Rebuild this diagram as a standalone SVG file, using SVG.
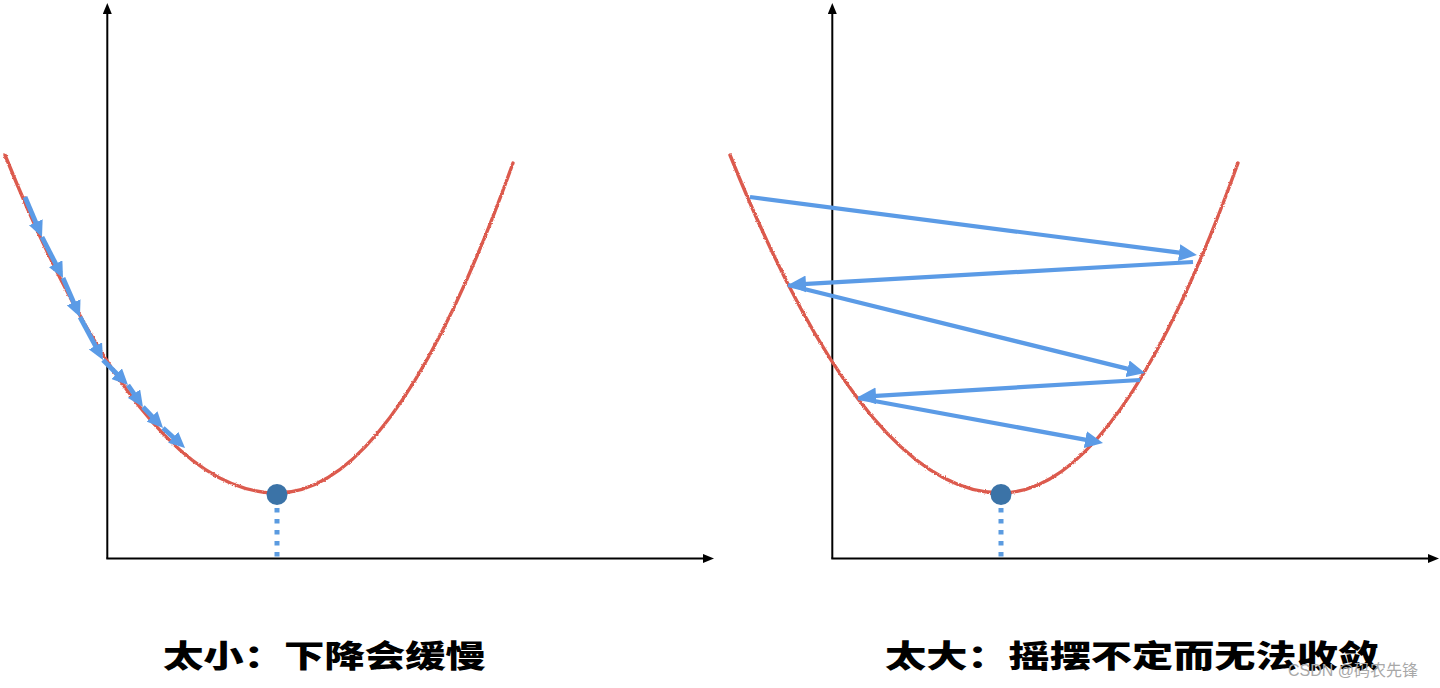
<svg xmlns="http://www.w3.org/2000/svg" width="1440" height="688" viewBox="0 0 1440 688">
  <style>
    .axis { stroke: #000; stroke-width: 2; fill: none; }
    .curve { stroke: #dc5a4e; stroke-width: 3.4; fill: none; stroke-linecap: round; }
    .drop { stroke: #5b9be0; stroke-width: 5; stroke-dasharray: 4.5 6.5; fill: none; }
    .dot { fill: #3b73a7; }
    .big { stroke: #5b9be6; stroke-width: 4.2; fill: none; marker-end: url(#bighead); }
    .small { stroke: #5b9be6; stroke-width: 4.8; fill: none; marker-end: url(#smallhead); }
    .title { font-family: "Noto Sans CJK SC", "Noto Sans", sans-serif; font-weight: 900; font-size: 31px; fill: #000; }
    .mark { font-family: "Liberation Sans", "Noto Sans CJK SC", sans-serif; font-size: 16px; fill: #a8a8a8; }
  </style>
  <defs>
    <marker id="axhead" markerUnits="userSpaceOnUse" markerWidth="11" markerHeight="9" viewBox="0 0 11 9" refX="5" refY="4.5" orient="auto">
      <path d="M0,0 L11,4.5 L0,9 z" fill="#000"/>
    </marker>
    <marker id="bighead" markerUnits="userSpaceOnUse" markerWidth="18" markerHeight="17" viewBox="0 0 18 17" refX="12" refY="8.5" orient="auto">
      <path d="M0,0 L18,8.5 L0,17 z" fill="#5b9be6"/>
    </marker>
    <marker id="smallhead" markerUnits="userSpaceOnUse" markerWidth="16" markerHeight="15" viewBox="0 0 16 15" refX="10" refY="7.5" orient="auto">
      <path d="M0,0 L16,7.5 L0,15 z" fill="#5b9be6"/>
    </marker>
    <filter id="rough" x="-5%" y="-5%" width="110%" height="110%">
      <feTurbulence type="fractalNoise" baseFrequency="0.9" numOctaves="2" seed="3"/>
      <feDisplacementMap in="SourceGraphic" scale="2.5" xChannelSelector="R" yChannelSelector="G"/>
    </filter>
  </defs>

  <g id="chart-left">
    <g id="axes-left">
      <path class="axis" d="M107.3,558.5 L107.3,9" marker-end="url(#axhead)"/>
      <path class="axis" d="M106.3,558.5 L708,558.5" marker-end="url(#axhead)"/>
    </g>
    <path id="curve-left" class="curve" filter="url(#rough)" d="M5,155 Q141,493 277,493 Q395,493 513,163"/>
    <line id="drop-left" class="drop" x1="277" y1="508" x2="277" y2="558"/>
    <circle id="min-left" class="dot" cx="277" cy="494.5" r="10.5"/>
  </g>

  <g id="chart-right">
    <g id="axes-right">
      <path class="axis" d="M832.3,558.5 L832.3,9" marker-end="url(#axhead)"/>
      <path class="axis" d="M831.3,558.5 L1433,558.5" marker-end="url(#axhead)"/>
    </g>
    <path id="curve-right" class="curve" filter="url(#rough)" d="M730,155 Q865.5,493 1001,493 Q1119.5,493 1238,163"/>
    <line id="drop-right" class="drop" x1="1001" y1="508" x2="1001" y2="558"/>
    <circle id="min-right" class="dot" cx="1001" cy="494.5" r="10.5"/>
  </g>

  <g id="connectors">
    <g id="small-steps">
      <line class="small" x1="25" y1="197" x2="39.65" y2="231.5"/>
      <line class="small" x1="42" y1="237" x2="60.26" y2="272.66"/>
      <line class="small" x1="63" y1="278" x2="77.6" y2="311.5"/>
      <line class="small" x1="80" y1="317" x2="100.17" y2="354.7"/>
      <line class="small" x1="103" y1="360" x2="123.76" y2="380.76"/>
      <line class="small" x1="128" y1="385" x2="139.6" y2="402"/>
      <line class="small" x1="143" y1="407" x2="158.9" y2="423.7"/>
      <line class="small" x1="163" y1="428" x2="180.6" y2="444"/>
    </g>
    <g id="big-steps">
      <line class="big" x1="750" y1="197" x2="1191" y2="254.2"/>
      <line class="big" x1="1193" y1="262" x2="794" y2="284.7"/>
      <line class="big" x1="788" y1="285" x2="1139.2" y2="371.6"/>
      <line class="big" x1="1140" y1="380" x2="864" y2="396.6"/>
      <line class="big" x1="858" y1="398" x2="1097.1" y2="441.9"/>
    </g>
  </g>

  <g id="labels">
    <text id="title-left" class="title" x="163" y="667" textLength="323" lengthAdjust="spacingAndGlyphs">太小：下降会缓慢</text>
    <text id="title-right" class="title" x="885" y="667" textLength="494" lengthAdjust="spacingAndGlyphs">太大：摇摆不定而无法收敛</text>
    <text id="watermark" class="mark" x="1288" y="676">CSDN @码农先锋</text>
  </g>
</svg>
